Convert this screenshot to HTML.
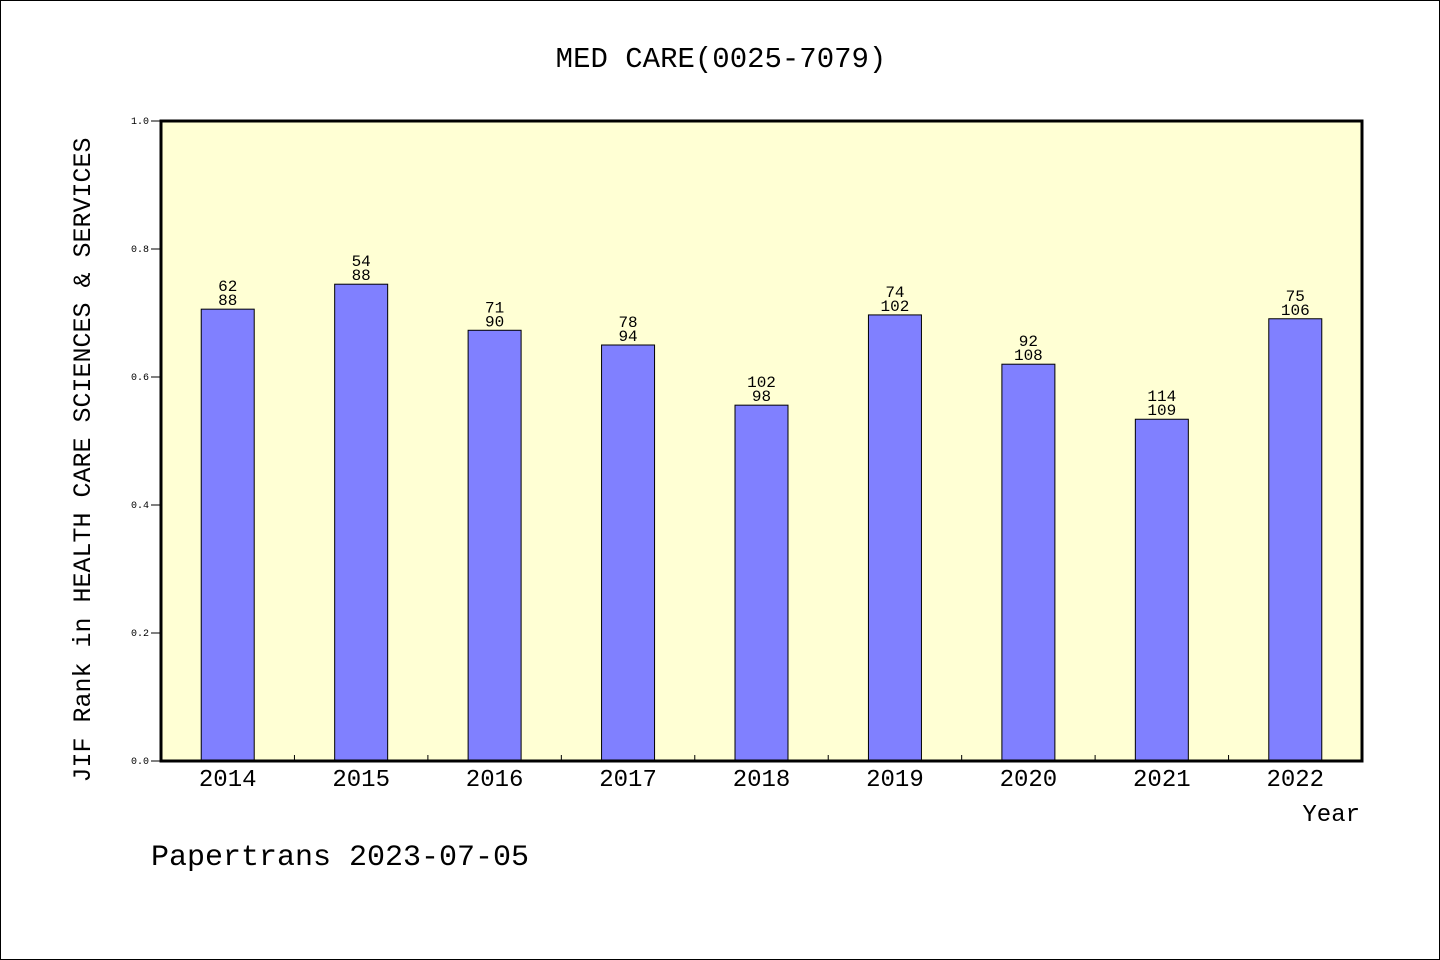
<!DOCTYPE html>
<html><head><meta charset="utf-8"><style>
body{margin:0;background:#fff}
#wrap{position:relative;width:1438px;height:958px;border:1px solid #000;background:#fff;overflow:hidden}
svg text{font-family:"Liberation Mono","DejaVu Sans Mono",monospace;fill:#000}
</style></head><body>
<div id="wrap">
<svg id="chart" width="1440" height="960">
<text x="720" y="66" text-anchor="middle" font-size="29">MED CARE(0025-7079)</text>
<rect x="160" y="120" width="1201" height="640" fill="#ffffd4"/>
<g id="bars"></g>
<rect x="160" y="120" width="1201" height="640" fill="none" stroke="#000" stroke-width="3"/>
<text transform="translate(89,459) rotate(-90)" text-anchor="middle" font-size="25">JIF Rank in HEALTH CARE SCIENCES &amp; SERVICES</text>
<text x="1359" y="820" text-anchor="end" font-size="24">Year</text>
<text x="150" y="864" font-size="30">Papertrans 2023-07-05</text>
</svg>
</div>
<script>
const categories=["2014","2015","2016","2017","2018","2019","2020","2021","2022"];
const values=[0.706,0.745,0.673,0.650,0.556,0.697,0.620,0.534,0.691];
const ranks=["62","54","71","78","102","74","92","114","75"];
const totals=["88","88","90","94","98","102","108","109","106"];
const yTicks=[0,0.2,0.4,0.6,0.8,1.0];
const yTickLabels=["0.0","0.2","0.4","0.6","0.8","1.0"];
const NS="http://www.w3.org/2000/svg";
const L=160,T=120,W=1201,H=640,band=W/categories.length,bw=53;
const y=v=>T+H-v*H, xc=i=>L+band*(i+0.5);
const g=document.getElementById('bars');
function mk(tag,attrs){const e=document.createElementNS(NS,tag);for(const k in attrs)e.setAttribute(k,attrs[k]);g.appendChild(e);return e;}
yTicks.forEach((t,i)=>{
 const l=mk('line',{x1:L-10,x2:L,y1:y(t),y2:y(t),stroke:'#000'});
 
 
 const tx=mk('text',{x:L-8-4,y:y(t)+3,'text-anchor':'end','font-size':'10'});
 tx.textContent=yTickLabels[i];
 
 
});
categories.forEach((c,i)=>{
 if(i>0){const tk=mk('line',{x1:L+band*i,x2:L+band*i,y1:T+H,y2:T+H-6,stroke:'#000'});
 
 }
 const r=mk('rect',{x:xc(i)-bw/2,y:y(values[i]),width:bw,height:values[i]*H,fill:'#8080ff',stroke:'#000','stroke-width':1});
 
 
 const t1=mk('text',{x:xc(i),y:y(values[i])-18,'text-anchor':'middle','font-size':'16'});
 t1.textContent=ranks[i];
 
 
 const t2=mk('text',{x:xc(i),y:y(values[i])-4,'text-anchor':'middle','font-size':'16'});
 t2.textContent=totals[i];
 
 
 const xl=mk('text',{x:xc(i),y:T+H+25,'text-anchor':'middle','font-size':'24','font-family':'Liberation Sans, sans-serif'});
 xl.textContent=c;
 
 
});
</script>
</body></html>
